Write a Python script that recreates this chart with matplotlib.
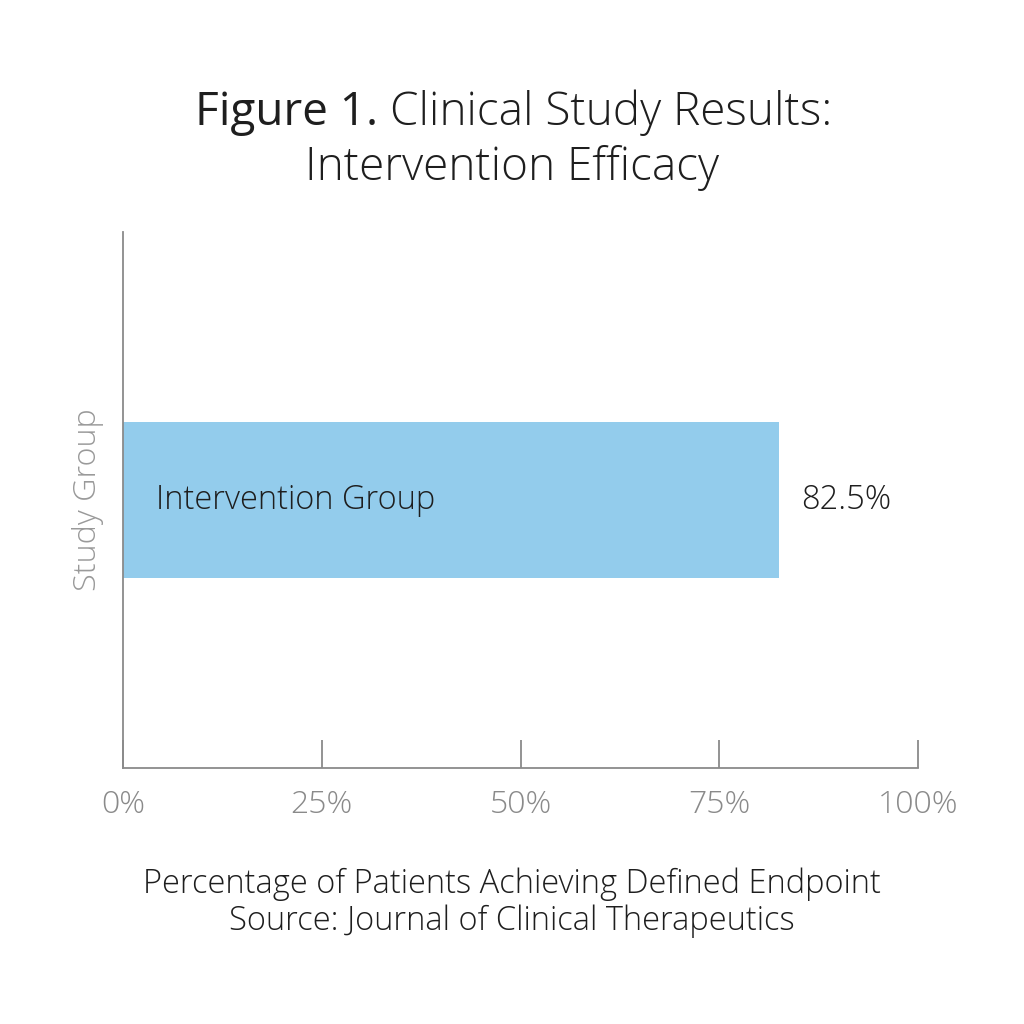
import matplotlib
matplotlib.use("Agg")
import matplotlib.pyplot as plt

# data
groups = ["Intervention Group"]
values = [82.5]
x_ticks = [0, 25, 50, 75, 100]
x_tick_labels = ["0%", "25%", "50%", "75%", "100%"]

plt.rcParams["font.family"] = ["Open Sans", "DejaVu Sans"]

BAR_COLOR = "#93CCEC"
AXIS_GRAY = "#8a8a8a"
TEXT_DARK = "#1e1e1e"

fig = plt.figure(figsize=(10.24, 10.24), dpi=100)
ax = fig.add_axes([123 / 1024, 1 - 768 / 1024, (918 - 123) / 1024, (768 - 232) / 1024])

ax.barh([0], values, height=0.29, color=BAR_COLOR, align="center")
ax.set_xlim(0, 100)
ax.set_ylim(-0.5, 0.5)

# labels inside / beside the bar
for i, (g, v) in enumerate(zip(groups, values)):
    ax.text(4.2, i, g, va="center", ha="left", fontsize=23.5, color=TEXT_DARK, fontweight=300)
    ax.text(v + 2.8, i, f"{v}%", va="center", ha="left", fontsize=23.5, color=TEXT_DARK, fontweight=300)

ax.set_xticks(x_ticks)
ax.set_xticklabels(x_tick_labels, fontsize=23, color=AXIS_GRAY, fontweight=300)
ax.tick_params(axis="x", direction="in", length=20, width=1.3, color=AXIS_GRAY, pad=15)
ax.set_yticks([])
for side in ["top", "right"]:
    ax.spines[side].set_visible(False)
for side in ["left", "bottom"]:
    ax.spines[side].set_color(AXIS_GRAY)
    ax.spines[side].set_linewidth(1.3)

ax.set_ylabel("Study Group", fontsize=23.3, color="#999999", fontweight=300, labelpad=14)

# title: heavier lead + light rest
fig.text(378 / 1024, 1 - 113 / 1024, "Figure 1.", ha="right", va="center",
         fontsize=33, fontweight="medium", color=TEXT_DARK)
fig.text(390 / 1024, 1 - 113 / 1024, "Clinical Study Results:", ha="left", va="center",
         fontsize=33, fontweight=300, color=TEXT_DARK)
fig.text(0.5, 1 - 168 / 1024, "Intervention Efficacy", ha="center", va="center",
         fontsize=33, fontweight=300, color=TEXT_DARK)

# caption
fig.text(0.5, 1 - 884 / 1024, "Percentage of Patients Achieving Defined Endpoint",
         ha="center", va="center", fontsize=23.5, fontweight=300, color=TEXT_DARK)
fig.text(0.5, 1 - 921 / 1024, "Source: Journal of Clinical Therapeutics",
         ha="center", va="center", fontsize=23.5, fontweight=300, color=TEXT_DARK)

fig.savefig("out.png", dpi=100, facecolor="white")
